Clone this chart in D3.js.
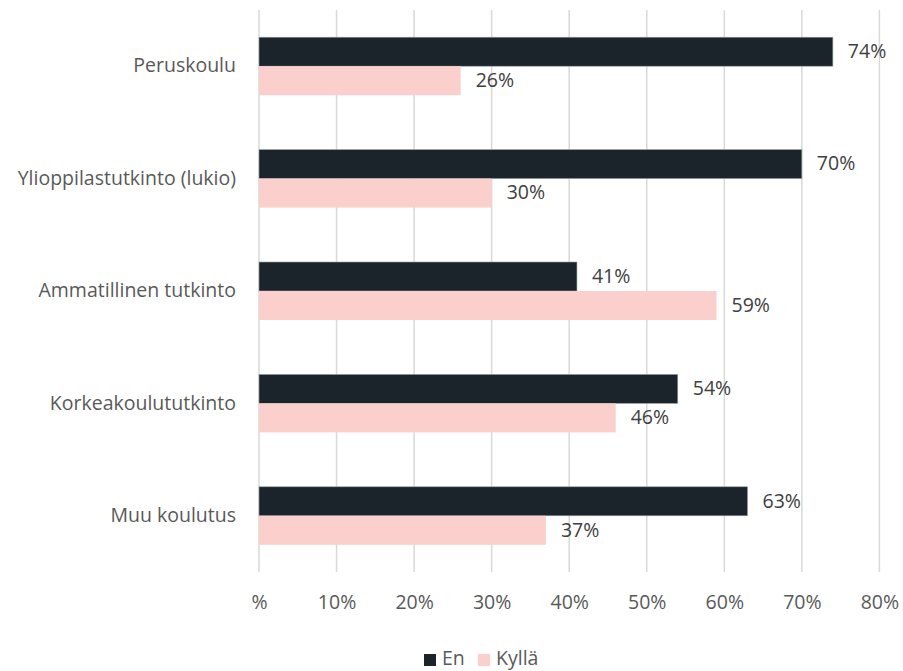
<!DOCTYPE html>
<html>
<head>
<meta charset="utf-8">
<script src="https://cdn.jsdelivr.net/npm/d3@7"></script>
<style>
  html, body { margin: 0; padding: 0; background: #ffffff; }
  svg { display: block; font-family: "Open Sans", Lato, sans-serif; }
</style>
</head>
<body>
<svg id="chart" width="903" height="671"></svg>
<script>
// Koulutustaso ja vastaukset (%)
const categories = ["Peruskoulu", "Ylioppilastutkinto (lukio)", "Ammatillinen tutkinto", "Korkeakoulututkinto", "Muu koulutus"];
const seriesNames = ["En", "Kyllä"];
const enValues = [74, 70, 41, 54, 63];
const kyllaValues = [26, 30, 59, 46, 37];
const xTicks = [0, 10, 20, 30, 40, 50, 60, 70, 80];
const xTickLabels = ["%", "10%", "20%", "30%", "40%", "50%", "60%", "70%", "80%"];

const colors = { "En": "#1b242b", "Kyllä": "#fbcfcb" };
const textColor = "#595959";
const fontFamily = "'Open Sans', Lato, sans-serif";
const fontSize = 19.5;

const svg = d3.select("#chart");
const plot = { left: 259, right: 879.4, top: 10, bottom: 572 };

const x = d3.scaleLinear().domain([0, 80]).range([plot.left, plot.right]);
const y = d3.scaleBand().domain(categories).range([plot.top, plot.bottom])
  .paddingInner(0.484).paddingOuter(0.242);
const ySub = d3.scaleBand().domain(seriesNames).range([0, y.bandwidth()]);

// Pystysuorat ruudukkoviivat
svg.append("g")
  .selectAll("line")
  .data(xTicks)
  .join("line")
  .attr("x1", d => x(d)).attr("x2", d => x(d))
  .attr("y1", plot.top).attr("y2", plot.bottom)
  .attr("stroke", "#d9d9d9")
  .attr("stroke-width", 1.5);

// X-akselin tunnisteet
const xAxis = d3.axisBottom(x).tickValues(xTicks)
  .tickFormat((d, i) => xTickLabels[i]).tickSize(0).tickPadding(0);
const xg = svg.append("g").attr("transform", `translate(0, ${plot.bottom + 37})`).call(xAxis);
xg.select(".domain").remove();
xg.selectAll("text")
  .attr("fill", textColor)
  .attr("font-size", fontSize)
  .attr("font-family", fontFamily)
  .attr("dy", "0");

// Y-akselin luokat
const yAxis = d3.axisLeft(y).tickSize(0).tickPadding(23);
const yg = svg.append("g").attr("transform", `translate(${plot.left}, 0)`).call(yAxis);
yg.select(".domain").remove();
yg.selectAll("text")
  .attr("fill", textColor)
  .attr("font-size", fontSize)
  .attr("font-family", fontFamily);

// Pylväät
const rows = categories.map((c, i) => ({
  category: c,
  values: [
    { key: "En", value: enValues[i] },
    { key: "Kyllä", value: kyllaValues[i] }
  ]
}));

const groups = svg.append("g")
  .selectAll("g")
  .data(rows)
  .join("g")
  .attr("transform", d => `translate(0, ${y(d.category)})`);

groups.selectAll("rect")
  .data(d => d.values)
  .join("rect")
  .attr("x", x(0))
  .attr("y", d => ySub(d.key))
  .attr("width", d => x(d.value) - x(0))
  .attr("height", ySub.bandwidth())
  .attr("fill", d => colors[d.key])
  .attr("stroke", d => d.key === "En" ? "#9aa1a6" : "none")
  .attr("stroke-width", 0.6);

// Arvotunnisteet
groups.selectAll("text")
  .data(d => d.values)
  .join("text")
  .attr("x", d => x(d.value) + 15)
  .attr("y", d => ySub(d.key) + ySub.bandwidth() / 2 + 1)
  .attr("dominant-baseline", "middle")
  .attr("fill", "#404040")
  .attr("font-size", fontSize)
  .text(d => d.value + "%");

// Selite
const legendItems = [
  { key: "En", sx: 424, tx: 442 },
  { key: "Kyllä", sx: 478, tx: 496 }
];
const legend = svg.append("g");
legend.selectAll("rect")
  .data(legendItems)
  .join("rect")
  .attr("x", d => d.sx).attr("y", 654)
  .attr("width", 12).attr("height", 12)
  .attr("fill", d => colors[d.key]);
legend.selectAll("text")
  .data(legendItems)
  .join("text")
  .attr("x", d => d.tx).attr("y", 660)
  .attr("dominant-baseline", "middle")
  .attr("fill", textColor)
  .attr("font-size", fontSize)
  .text(d => d.key);
</script>
</body>
</html>
